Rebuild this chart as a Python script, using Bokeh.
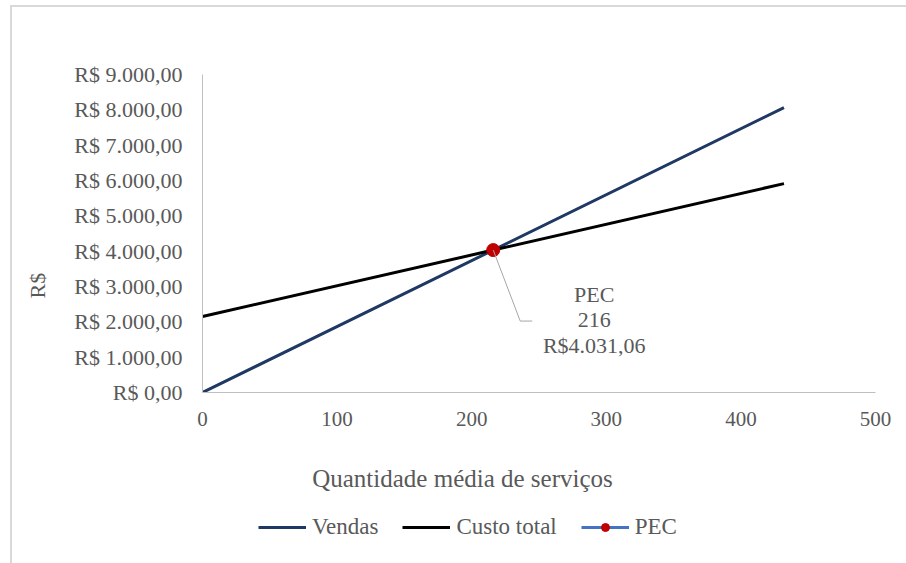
import math
from bokeh.plotting import figure
from bokeh.layouts import column
from bokeh.models import Range1d, Label, Legend, LegendItem, FixedTicker, CustomJSTickFormatter, Title
from bokeh.embed import file_html
from bokeh.resources import INLINE

# Break-even data: quantity of services vs revenue and total cost
quantidade = [0, 216, 432]
vendas = [0.0, 4031.06, 8062.12]
custo_total = [2150.0, 4031.06, 5912.12]
pec_x = [216]
pec_y = [4031.06]
pec_label = ["PEC", "216", "R$4.031,06"]

x_ticks = [0, 100, 200, 300, 400, 500]
y_ticks = [0, 1000, 2000, 3000, 4000, 5000, 6000, 7000, 8000, 9000]

FONT = "Liberation Serif"
GREY = "#595959"
C_VENDAS = "#1f3864"
C_CUSTO = "#000000"
C_PEC_LINE = "#4472c4"
C_PEC = "#c00000"

p = figure(width=906, height=432, output_backend="svg", toolbar_location=None,
           x_range=Range1d(0, 500), y_range=Range1d(0, 9000),
           min_border_left=202, min_border_right=31, min_border_top=74, min_border_bottom=40)
p.outline_line_color = None
p.border_fill_alpha = 0
p.background_fill_alpha = 0
p.grid.visible = False

# axes
p.xaxis.ticker = FixedTicker(ticks=x_ticks)
p.yaxis.ticker = FixedTicker(ticks=y_ticks)
p.yaxis.formatter = CustomJSTickFormatter(code="""
    const s = tick.toFixed(0).replace(/\\B(?=(\\d{3})+(?!\\d))/g, ".");
    return "R$ " + s + ",00";
""")
for ax in (p.xaxis[0], p.yaxis[0]):
    ax.major_tick_line_color = None
    ax.minor_tick_line_color = None
    ax.axis_line_color = "#bfbfbf"
    ax.major_label_text_font = FONT
    ax.major_label_text_color = GREY
    ax.major_label_text_font_size = "21px"
p.yaxis.major_label_text_font_size = "22px"
p.xaxis.major_label_standoff = 13
p.yaxis.major_label_standoff = 14

# series
r_v = p.line(quantidade, vendas, line_color=C_VENDAS, line_width=3)
r_c = p.line(quantidade, custo_total, line_color=C_CUSTO, line_width=3)
r_pm = p.scatter(pec_x, pec_y, size=13, fill_color=C_PEC, line_color=C_PEC)

# data label for the break-even point, offset in screen pixels
px_per_x = 673 / 500
px_per_y = 318 / 9000
lead_dx, lead_dy, lead_tail = 27, -71, 12
lx = [pec_x[0], pec_x[0] + lead_dx / px_per_x, pec_x[0] + (lead_dx + lead_tail) / px_per_x]
ly = [pec_y[0], pec_y[0] + lead_dy / px_per_y, pec_y[0] + lead_dy / px_per_y]
p.line(lx, ly, line_color="#a6a6a6", line_width=1)
for i, t in enumerate(pec_label):
    p.add_layout(Label(x=pec_x[0], y=pec_y[0], x_offset=101, y_offset=-44 - 25.5 * i, text=t,
                       text_align="center", text_baseline="middle", text_font=FONT,
                       text_font_size="22px", text_color=GREY))

# vertical axis title
p.add_layout(Title(text="R$", align="left", offset=94, standoff=44,
                   text_font=FONT, text_font_size="22px", text_font_style="normal",
                   text_color=GREY), "left")

# strip underneath: horizontal axis title and legend; its series sit outside the visible range
leg = figure(width=906, height=131, output_backend="svg", toolbar_location=None,
             x_range=Range1d(-2000, -1000), y_range=Range1d(-20000, -10000),
             min_border_left=202, min_border_right=31, min_border_top=0, min_border_bottom=0)
leg.axis.visible = False
leg.grid.visible = False
leg.outline_line_color = None
leg.border_fill_alpha = 0
leg.background_fill_alpha = 0
leg.add_layout(Label(x=260, y=85, x_units="screen", y_units="screen",
                     text="Quantidade média de serviços", text_align="center",
                     text_baseline="middle", text_font=FONT, text_font_size="25px",
                     text_color=GREY))
k_v = leg.line(quantidade, vendas, line_color=C_VENDAS, line_width=3)
k_c = leg.line(quantidade, custo_total, line_color=C_CUSTO, line_width=3)
k_pl = leg.line(pec_x, pec_y, line_color=C_PEC_LINE, line_width=3)
k_pm = leg.scatter(pec_x, pec_y, size=14, fill_color=C_PEC, line_color=C_PEC)
legend = Legend(items=[LegendItem(label="Vendas", renderers=[k_v]),
                       LegendItem(label="Custo total", renderers=[k_c]),
                       LegendItem(label="PEC", renderers=[k_pl, k_pm])],
                location=(56, 23), orientation="horizontal",
                glyph_width=48, glyph_height=20, label_standoff=6, spacing=24,
                padding=0, margin=0, border_line_color=None, background_fill_alpha=0,
                label_text_font=FONT, label_text_font_size="23px", label_text_color=GREY)
leg.add_layout(legend)

# chart-area frame: light grey rules along the top and left edges
page = column(p, leg, spacing=0)
page.styles = {
    "background-image": "linear-gradient(#d9d9d9, #d9d9d9), linear-gradient(#d9d9d9, #d9d9d9)",
    "background-size": "100% 2px, 2px 100%",
    "background-position": "10px 5px, 10px 5px",
    "background-repeat": "no-repeat",
}

open("out.html", "w").write(file_html(page, INLINE))
